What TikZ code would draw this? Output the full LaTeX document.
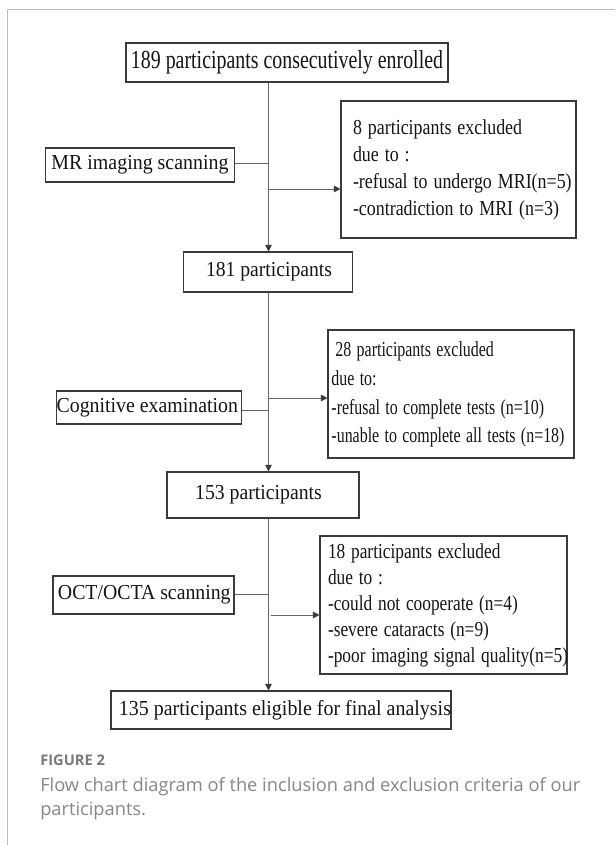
\documentclass[tikz,border=0pt]{standalone}
\usepackage{fontspec}
\usepackage{graphicx}
\setmainfont{Liberation Serif}
\newfontfamily\capfont{Open Sans}
\usetikzlibrary{arrows.meta}
\definecolor{boxc}{HTML}{3A3A3A}
\definecolor{linec}{HTML}{666666}
\definecolor{txtc}{HTML}{151515}
\definecolor{framec}{HTML}{BDBDBD}
\definecolor{capc}{HTML}{878787}
\definecolor{figc}{HTML}{7A7A7A}
\newcommand\fw[2]{\resizebox{#1}{\height}{#2}}
\newcommand\exlines[2]{\fontsize{16}{#1}\selectfont\begin{tabular}{@{}l@{}}#2\end{tabular}}
\begin{document}
\begin{tikzpicture}[x=0.75pt,y=-0.75pt,
  box/.style={draw=boxc, line width=0.8pt, inner sep=0pt, text=txtc,
    font=\fontsize{16}{19}\selectfont},
  exbox/.style={box, align=left},
  link/.style={draw=linec, line width=0.75pt},
  arr/.style={link, -{Triangle[length=5pt,width=5pt,fill=boxc,color=boxc]}},
  captxt/.style={anchor=base west, inner sep=0pt, text=capc, font=\capfont\fontsize{13.7}{17}\selectfont}]
\useasboundingbox (0,0) rectangle (615,845);
\fill[white] (0,0) rectangle (615,845);
\draw[framec, line width=1.1pt] (615,9.3) -- (7.3,9.3) -- (7.3,845);

% main boxes
\node[box, minimum width=241.5pt, minimum height=29.25pt, font=\fontsize{19.5}{22}\selectfont] (b1) at (287,62.5) {\fw{234pt}{189 participants consecutively enrolled}};
\node[box, minimum width=126.4pt, minimum height=30pt] (b2) at (268,272) {\hspace{1.5pt}\fw{94.5pt}{181 participants}};
\node[box, minimum width=144pt, minimum height=34.5pt] (b3) at (263,495) {\hspace{-6.75pt}\fw{95pt}{153 participants}};
\node[box, minimum width=255pt, minimum height=28.5pt] (b4) at (281,710) {\hspace{6pt}\fw{249pt}{135 participants eligible for final analysis}};

% step boxes
\node[box, minimum width=141.4pt, minimum height=25.5pt] (mr) at (140,165) {\fw{132.75pt}{MR imaging scanning}};
\node[box, minimum width=139.1pt, minimum height=24.75pt] (cog) at (149,407.5) {\hspace{-2.6pt}\fw{136pt}{Cognitive examination}};
\node[box, minimum width=135.75pt, minimum height=28.5pt] (oct) at (143.5,595) {\hspace{1.2pt}\fw{129.5pt}{OCT/OCTA scanning}};

% exclusion boxes
\node[exbox, inner xsep=9pt, text width=158.25pt, minimum height=102.75pt] (e1) at (458.5,169.5)
  {\raisebox{-0.8pt}{\fw{164pt}{\exlines{20.4}{8 participants excluded\\due to :\\-refusal to undergo MRI(n=5)\\-contradiction to MRI (n=3)}}}};
\node[exbox, inner xsep=2.6pt, text width=179.3pt, minimum height=96pt] (e2) at (451,394)
  {\raisebox{-1.9pt}{\fw{174.75pt}{\exlines{21.5}{\hspace{4pt}28 participants excluded\\due to:\\-refusal to complete tests (n=10)\\-unable to complete all tests (n=18)}}}};
\node[exbox, inner xsep=6pt, text width=173.25pt, minimum height=103.5pt] (e3) at (443.5,605)
  {\fw{180pt}{\exlines{19.5}{18 participants excluded\\due to :\\-could not cooperate (n=4)\\-severe cataracts (n=9)\\-poor imaging signal quality(n=5)}}};

% connectors
\coordinate (j1) at (268.5,163);
\coordinate (k1) at (268.5,189);
\coordinate (j2) at (268.5,410);
\coordinate (k2) at (268.5,398);
\coordinate (j3) at (268.5,594);
\coordinate (k3) at (270.6,615);

\draw[arr] (b1.south -| j1) -- (b2.north -| j1);
\draw[arr] (b2.south -| j1) -- (b3.north -| j1);
\draw[arr] (b3.south -| j1) -- (b4.north -| j1);
\draw[link] (mr.east |- j1) -- (j1);
\draw[link] (cog.east |- j2) -- (j2);
\draw[link] (oct.east |- j3) -- (j3);
\draw[arr] (k1) -- (k1 -| e1.west);
\draw[arr] (k2) -- (k2 -| e2.west);
\draw[arr] (k3) -- (k3 -| e3.west);

% caption
\node[anchor=base west, inner sep=0pt, text=figc, font=\capfont\bfseries\fontsize{11}{12}\selectfont] (fig) at (40,765) {FIGURE 2};
\node[captxt] (cap1) at (40,791) {Flow chart diagram of the inclusion and exclusion criteria of our};
\node[captxt] (cap2) at (40,815) {participants.};
\end{tikzpicture}
\end{document}
